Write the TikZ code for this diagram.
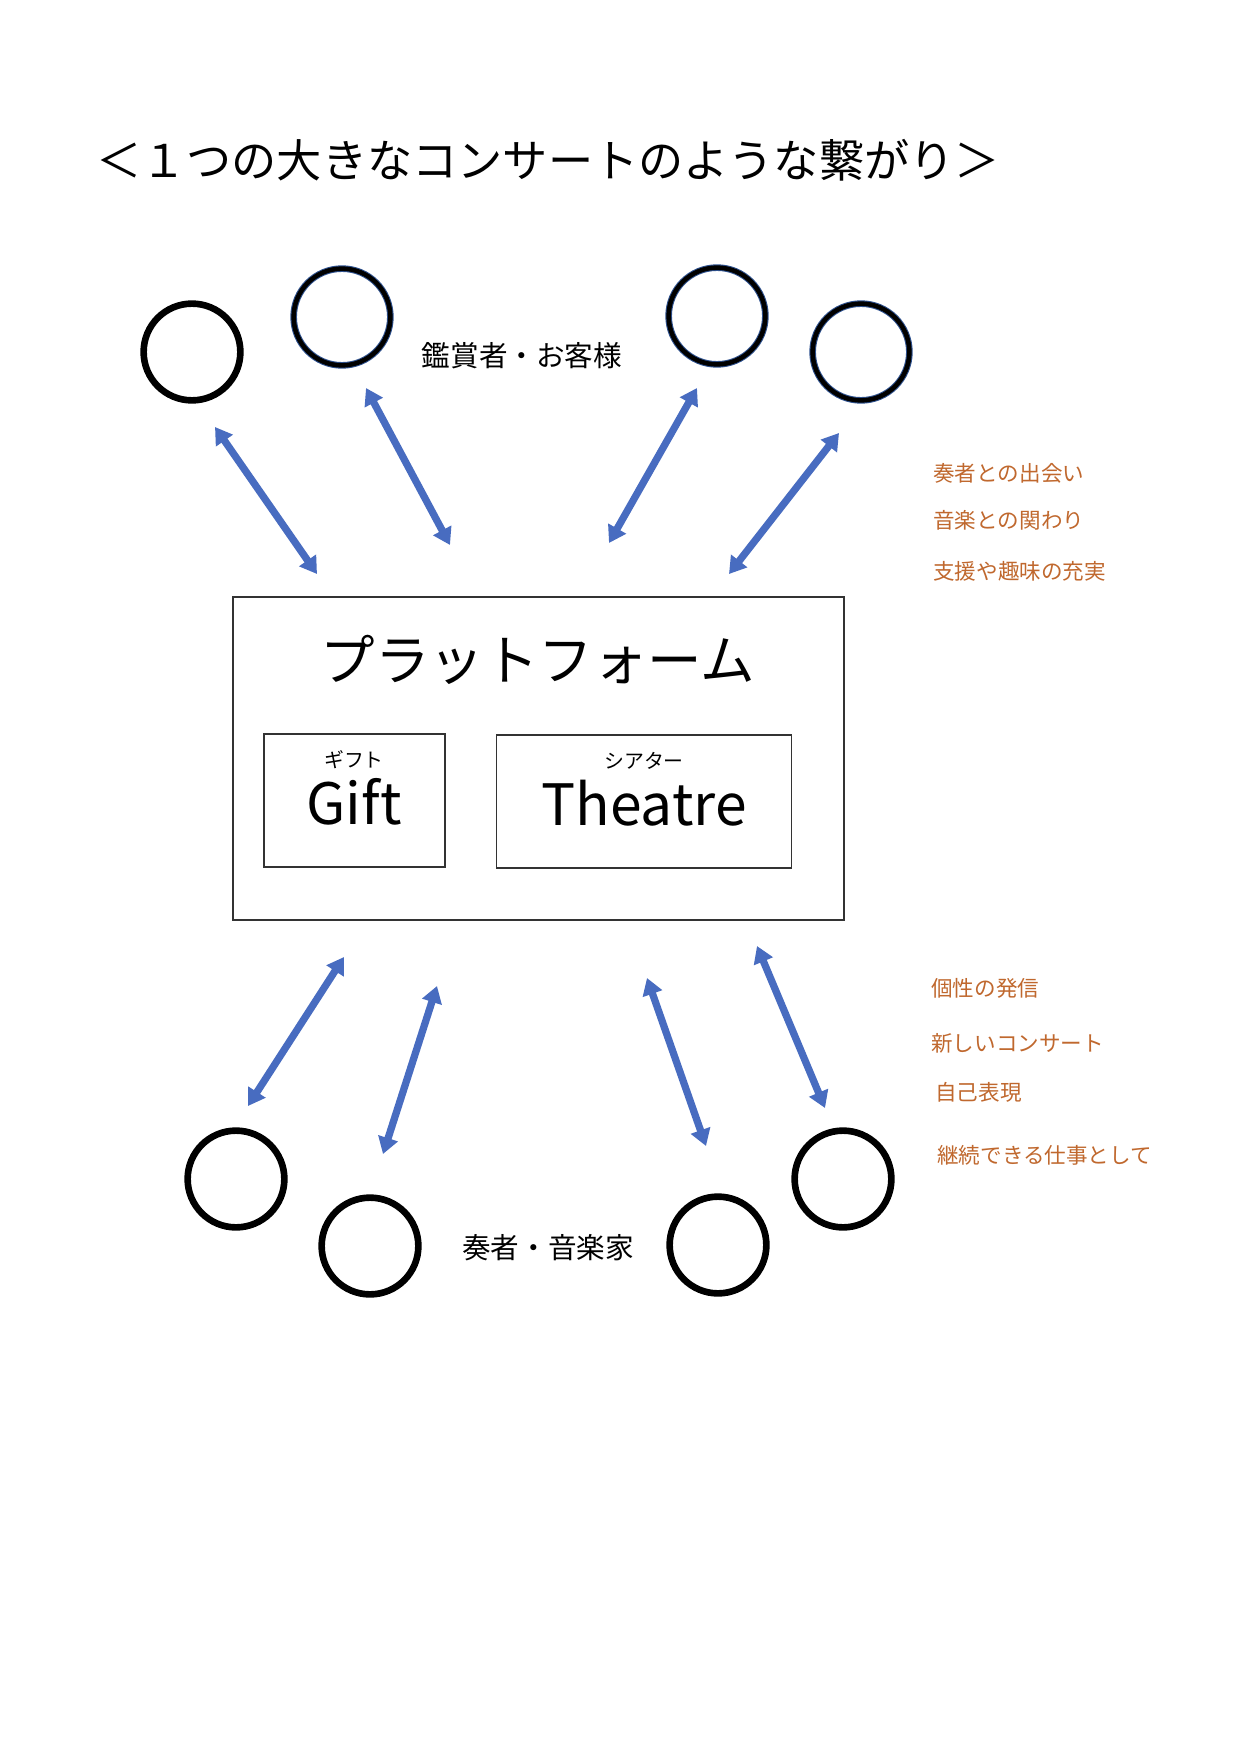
\documentclass[tikz,border=0pt]{standalone}
\usepackage{fontspec}
\setmainfont{Noto Sans CJK JP}
\usepackage{xcolor}
\usepackage{tikz}
\usetikzlibrary{shapes,arrows.meta}

\definecolor{arrowblue}{RGB}{72,108,192}
\definecolor{rimblue}{RGB}{47,82,143}
\definecolor{noteorange}{RGB}{192,104,46}

\begin{document}
\begin{tikzpicture}[x=0.01695cm, y=-0.01695cm]
	% % % % % % % % % % % % % % % % % % % % % % % % % % % % % %
	% Define styles
	\tikzstyle{person} = [circle, draw, line width=3.2pt, minimum size=1.64cm, inner sep=0pt]
	\tikzstyle{rimmed} = [draw=rimblue, double=black, line width=0.5pt, double distance=2.2pt]
	\tikzstyle{frame} = [rectangle, draw=black!80, line width=0.7pt, inner sep=0pt]
	\tikzstyle{group} = [inner sep=0pt, font=\fontsize{13.8pt}{16pt}\selectfont]
	\tikzstyle{note} = [anchor=west, inner sep=0pt, text=noteorange, font=\fontsize{10.4pt}{12pt}\selectfont]
	\tikzstyle{ruby} = [inner sep=0pt, font=\fontsize{9.6pt}{11pt}\selectfont]
	\tikzstyle{word} = [inner sep=0pt, font=\fontsize{27.5pt}{32pt}\selectfont]
	\tikzstyle{line} = [draw=arrowblue, line width=3.5pt, {Triangle[width=9.5pt,length=8pt]}-{Triangle[width=9.5pt,length=8pt]}]

	% page
	\path [fill=white] (0,0) rectangle (1239,1754);
	\useasboundingbox (0,0) rectangle (1239,1754);

	% % % % % % % % % % % % % % % % % % % % % % % % % % % % % %
	% Place nodes
	% title
	\node [inner sep=0pt, font=\fontsize{21.8pt}{26pt}\selectfont] (title) at (548,160) {＜１つの大きなコンサートのような繋がり＞};
	% audience
	\node [person] (au1) at (192,352) {};
	\node [person, rimmed] (au2) at (342,317) {};
	\node [person, rimmed] (au3) at (717,316) {};
	\node [person, rimmed] (au4) at (861,352) {};
	\node [group] (aud) at (522,356) {鑑賞者・お客様};
	% platform
	\node [frame, minimum width=10.36cm, minimum height=5.47cm] (pf) at (538.5,758.5) {};
	\node [inner sep=0pt, font=\fontsize{26.3pt}{30pt}\selectfont] (pft) at (538,660) {プラットフォーム};
	\node [frame, minimum width=3.07cm, minimum height=2.25cm] (gf) at (354.5,800.5) {};
	\node [ruby] (gfr) at (354,760) {ギフト};
	\node [word] (gfw) at (354,802) {Gift};
	\node [frame, minimum width=5.0cm, minimum height=2.25cm] (th) at (644,801.5) {};
	\node [ruby] (thr) at (644,761) {シアター};
	\node [word] (thw) at (644,803) {Theatre};
	% notes for audience
	\node [note] (n1) at (933,473) {奏者との出会い};
	\node [note] (n2) at (933,520) {音楽との関わり};
	\node [note] (n3) at (933,571) {支援や趣味の充実};
	% players
	\node [person] (pl1) at (236,1179) {};
	\node [person] (pl2) at (370,1246) {};
	\node [person] (pl3) at (718,1245) {};
	\node [person] (pl4) at (843,1179) {};
	\node [group] (ply) at (548,1248) {奏者・音楽家};
	% notes for players
	\node [note] (m1) at (931,988) {個性の発信};
	\node [note] (m2) at (931,1043) {新しいコンサート};
	\node [note] (m3) at (935,1092) {自己表現};
	\node [note] (m4) at (937,1155) {継続できる仕事として};

	% arrow ends
	\coordinate (a1s) at (215,427);  \coordinate (a1e) at (317,574);
	\coordinate (a2s) at (366,388);  \coordinate (a2e) at (450,545);
	\coordinate (a3s) at (697,388);  \coordinate (a3e) at (609,543);
	\coordinate (a4s) at (839,433);  \coordinate (a4e) at (729,574);
	\coordinate (b1s) at (344,957);  \coordinate (b1e) at (248,1106);
	\coordinate (b2s) at (437,986);  \coordinate (b2e) at (383,1154);
	\coordinate (b3s) at (647,978);  \coordinate (b3e) at (706,1146);
	\coordinate (b4s) at (757,946);  \coordinate (b4e) at (825,1108);

	% Draw edges
	\path [line] (a1s) -- (a1e);
	\path [line] (a2s) -- (a2e);
	\path [line] (a3s) -- (a3e);
	\path [line] (a4s) -- (a4e);
	% %
	\path [line] (b1s) -- (b1e);
	\path [line] (b2s) -- (b2e);
	\path [line] (b3s) -- (b3e);
	\path [line] (b4s) -- (b4e);
\end{tikzpicture}
\end{document}
